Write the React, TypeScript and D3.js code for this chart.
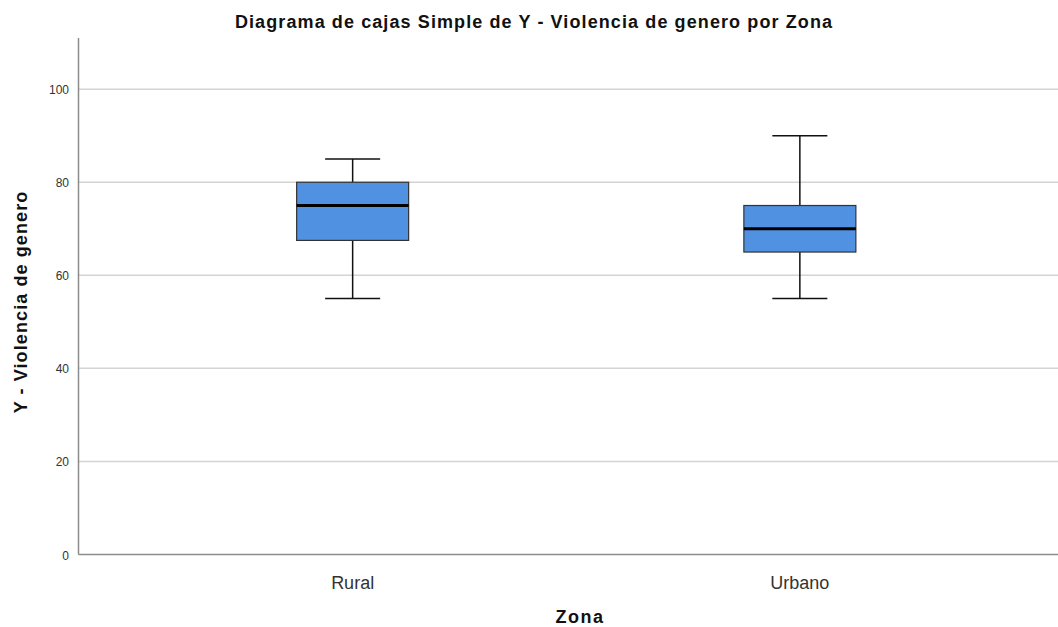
import React from "react";
import * as d3 from "d3";

const categories = ["Rural", "Urbano"];
const whiskerLow = [55, 55];
const q1 = [67.5, 65];
const medians = [75, 70];
const q3 = [80, 75];
const whiskerHigh = [85, 90];
const yTicks = [0, 20, 40, 60, 80, 100];

const W = 1058;
const H = 627;
const left = 78.5;
const top = 38;
const bottom = 554.5;

export default function App() {
  const y = d3.scaleLinear().domain([0, 111]).range([bottom, top]);
  const x = d3.scalePoint<string>().domain(categories).range([left, 1074]).padding(0.613);
  const boxW = 112;
  const capW = 55;
  const font = "'Liberation Sans', Arial, sans-serif";
  return (
    <svg width={W} height={H} style={{ position: "absolute", left: 0, top: 0, background: "#fff" }} fontFamily={font}>
      <text x={534} y={28} textAnchor="middle" fontSize={18} fontWeight="bold" fill="#111" letterSpacing={1.1}>
        Diagrama de cajas Simple de Y - Violencia de genero por Zona
      </text>
      {yTicks.filter((t) => t > 0).map((t) => (
        <line key={"g" + t} x1={left} x2={W} y1={y(t)} y2={y(t)} stroke="#d4d4d4" strokeWidth={1.5} />
      ))}
      {yTicks.map((t) => (
        <g key={"t" + t}>
          <text x={69} y={y(t) + 5} textAnchor="end" fontSize={12} fill="#333">{t}</text>
        </g>
      ))}
      <line x1={left} x2={left} y1={top} y2={bottom} stroke="#8c8c8c" strokeWidth={1.5} />
      <line x1={left} x2={W} y1={bottom} y2={bottom} stroke="#8c8c8c" strokeWidth={1.5} />
      {categories.map((c, i) => {
        const cx = x(c) as number;
        return (
          <g key={c}>
            <line x1={cx} x2={cx} y1={y(whiskerHigh[i])} y2={y(q3[i])} stroke="#111" strokeWidth={1.5} />
            <line x1={cx} x2={cx} y1={y(q1[i])} y2={y(whiskerLow[i])} stroke="#111" strokeWidth={1.5} />
            <line x1={cx - capW / 2} x2={cx + capW / 2} y1={y(whiskerHigh[i])} y2={y(whiskerHigh[i])} stroke="#111" strokeWidth={1.5} />
            <line x1={cx - capW / 2} x2={cx + capW / 2} y1={y(whiskerLow[i])} y2={y(whiskerLow[i])} stroke="#111" strokeWidth={1.5} />
            <rect x={cx - boxW / 2} y={y(q3[i])} width={boxW} height={y(q1[i]) - y(q3[i])} fill="#5191e1" stroke="#333" strokeWidth={1.2} />
            <line x1={cx - boxW / 2} x2={cx + boxW / 2} y1={y(medians[i])} y2={y(medians[i])} stroke="#000" strokeWidth={3} />
            <text x={cx} y={589} textAnchor="middle" fontSize={18} fill="#333">{c}</text>
          </g>
        );
      })}
      <text x={580} y={623} textAnchor="middle" fontSize={18} fontWeight="bold" fill="#111" letterSpacing={1.5}>Zona</text>
      <text transform={`translate(27, ${302}) rotate(-90)`} textAnchor="middle" fontSize={18} fontWeight="bold" fill="#111" letterSpacing={1.1}>
        Y - Violencia de genero
      </text>
    </svg>
  );
}
